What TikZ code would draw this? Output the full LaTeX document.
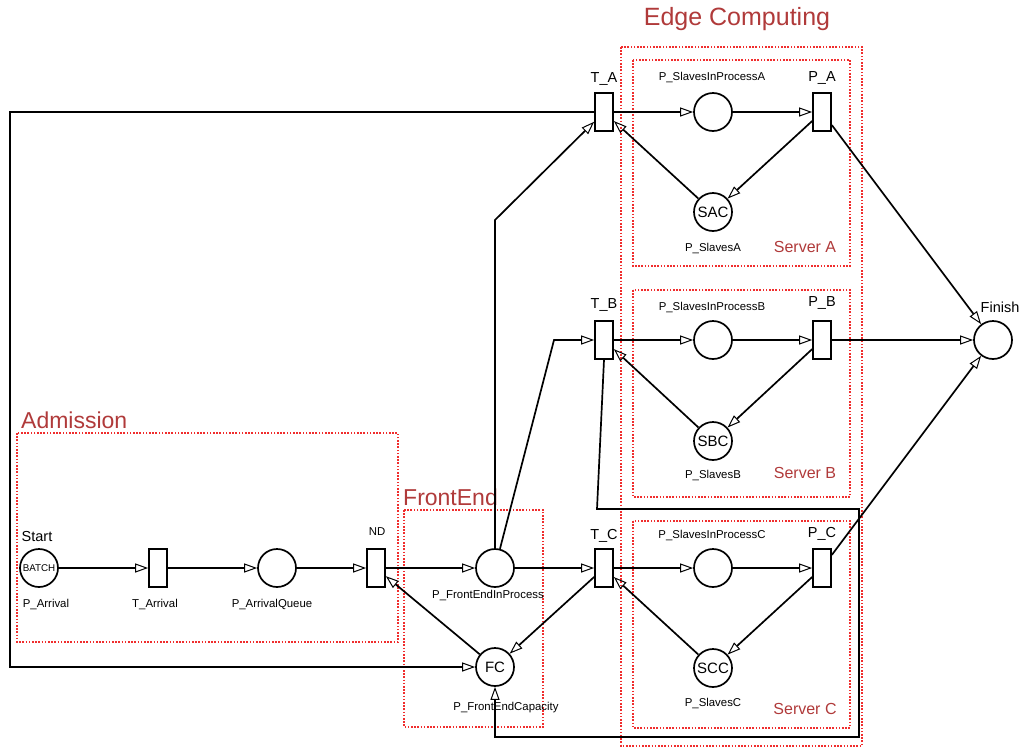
\documentclass[tikz,border=0pt]{standalone}
\usepackage{fontspec}
\setmainfont{Liberation Sans}
\usetikzlibrary{arrows.meta}
\definecolor{zone}{RGB}{240,45,45}
\definecolor{zonetitle}{RGB}{176,58,58}
\tikzset{
  place/.style={circle,draw,line width=1.7pt,minimum size=38pt,inner sep=0pt,font=\fontsize{15}{15}\selectfont},
  trans/.style={rectangle,draw,line width=1.7pt,minimum width=18pt,minimum height=38pt,inner sep=0pt},
  arc/.style={line width=1.7pt,-{Triangle[open,length=13pt,width=9pt,line width=1pt]}},
  heavyarc/.style={arc,line width=2.4pt},
  zonebox/.style={draw=zone,line width=1.6pt,dash pattern=on 1.6pt off 1.6pt},
  zonetitle/.style={text=zonetitle,inner sep=0pt,font=\fontsize{23}{24}\selectfont},
  servername/.style={text=zonetitle,inner sep=0pt,font=\fontsize{16}{16}\selectfont},
  small/.style={inner sep=0pt,font=\fontsize{11.4}{11.4}\selectfont},
  tname/.style={inner sep=0pt,font=\fontsize{14.5}{14.5}\selectfont},
}
\begin{document}
\begin{tikzpicture}[x=1pt,y=-1pt]
\useasboundingbox (0,0) rectangle (1024,747);

% ---- dotted zones ----
\draw[zonebox] (621,47) rectangle (862,746);
\draw[zonebox] (633,60) rectangle (850,266);
\draw[zonebox] (633,290) rectangle (850,497);
\draw[zonebox] (633,521) rectangle (850,728);
\draw[zonebox] (17,433) rectangle (398,642);
\draw[zonebox] (404,510) rectangle (543,727);

\node[zonetitle,font=\fontsize{25}{26}\selectfont] (tEdge) at (737,19) {Edge Computing};
\node[zonetitle,anchor=west] (tAdm) at (21,420) {Admission};
\node[zonetitle,anchor=west] (tFE) at (403,497) {FrontEnd};
\node[servername] (sA) at (805,247) {Server A};
\node[servername] (sB) at (805,473) {Server B};
\node[servername] (sC) at (805,709) {Server C};

% ---- admission ----
\node[place] (Start) at (39,568) {\fontsize{9.8}{10}\selectfont BATCH};
\node[trans] (TArr) at (158,568) {};
\node[place] (PAQ) at (277,568) {};
\node[trans] (ND) at (376,568) {};
\node[tname] (lStart) at (37,536) {Start};
\node[small] (lPArr) at (46,604) {P\_Arrival};
\node[small] (lTArr) at (155,604) {T\_Arrival};
\node[small] (lPAQ) at (272,604) {P\_ArrivalQueue};
\node[small] (lND) at (377,532) {ND};

% ---- front end ----
\node[place] (FEIP) at (495,568) {};
\node[place] (FC) at (495,667) {FC};
\node[small] (lFEIP) at (488,595) {P\_FrontEndInProcess};
\node[small] (lFC) at (506,708) {P\_FrontEndCapacity};

% ---- edge servers ----
\node[trans] (TA) at (604,112) {};
\node[place] (PIPA) at (713,112) {};
\node[trans] (PA) at (822,112) {};
\node[place] (SAC) at (713,212) {SAC};
\node[tname] (lTA) at (604,79) {T\_A};
\node[small] (lPIPA) at (712,78) {P\_SlavesInProcessA};
\node[tname] (lPA) at (822,78) {P\_A};
\node[small] (lSA) at (713,248) {P\_SlavesA};

\node[trans] (TB) at (604,340) {};
\node[place] (PIPB) at (713,340) {};
\node[trans] (PB) at (822,340) {};
\node[place] (SBC) at (713,441) {SBC};
\node[tname] (lTB) at (604,305) {T\_B};
\node[small] (lPIPB) at (712,307) {P\_SlavesInProcessB};
\node[tname] (lPB) at (822,303) {P\_B};
\node[small] (lSB) at (713,475) {P\_SlavesB};

\node[trans] (TC) at (604,568) {};
\node[place] (PIPC) at (713,568) {};
\node[trans] (PC) at (822,568) {};
\node[place] (SCC) at (713,668) {SCC};
\node[tname] (lTC) at (604,536) {T\_C};
\node[small] (lPIPC) at (712,535) {P\_SlavesInProcessC};
\node[tname] (lPC) at (822,534) {P\_C};
\node[small] (lSC) at (713,703) {P\_SlavesC};

\node[place] (Finish) at (993,340) {};
\node[tname] (lFin) at (1000,307) {Finish};

% ---- arcs ----
\draw[arc] (Start) -- (TArr);
\draw[arc] (TArr) -- (PAQ);
\draw[arc] (PAQ) -- (ND);
\draw[arc] (ND) -- (FEIP);
\draw[arc] (FC) -- (ND);
\draw[arc] (FEIP) -- (TC);
\draw[arc] (TC) -- (FC);
\draw[arc] (FEIP.north) -- (495,220) -- (TA);
\draw[arc] (FEIP) -- (554,340) -- (TB);
\draw[arc] (TA.west) -- (10,112) -- (10,667) -- (FC.west);
\draw[arc] (TB.south) -- (597,509) -- (859,509) -- (859,737) -- (495,737) -- (FC.south);

\draw[heavyarc] (TA) -- (PIPA);
\draw[heavyarc] (PIPA) -- (PA);
\draw[arc] (PA) -- (SAC);
\draw[arc] (SAC) -- (TA);

\draw[arc] (TB) -- (PIPB);
\draw[arc] (PIPB) -- (PB);
\draw[arc] (PB) -- (SBC);
\draw[arc] (SBC) -- (TB);

\draw[arc] (TC) -- (PIPC);
\draw[arc] (PIPC) -- (PC);
\draw[arc] (PC) -- (SCC);
\draw[arc] (SCC) -- (TC);

\draw[arc] (PA) -- (Finish);
\draw[arc] (PB) -- (Finish);
\draw[arc] (PC) -- (Finish);
\end{tikzpicture}
\end{document}
